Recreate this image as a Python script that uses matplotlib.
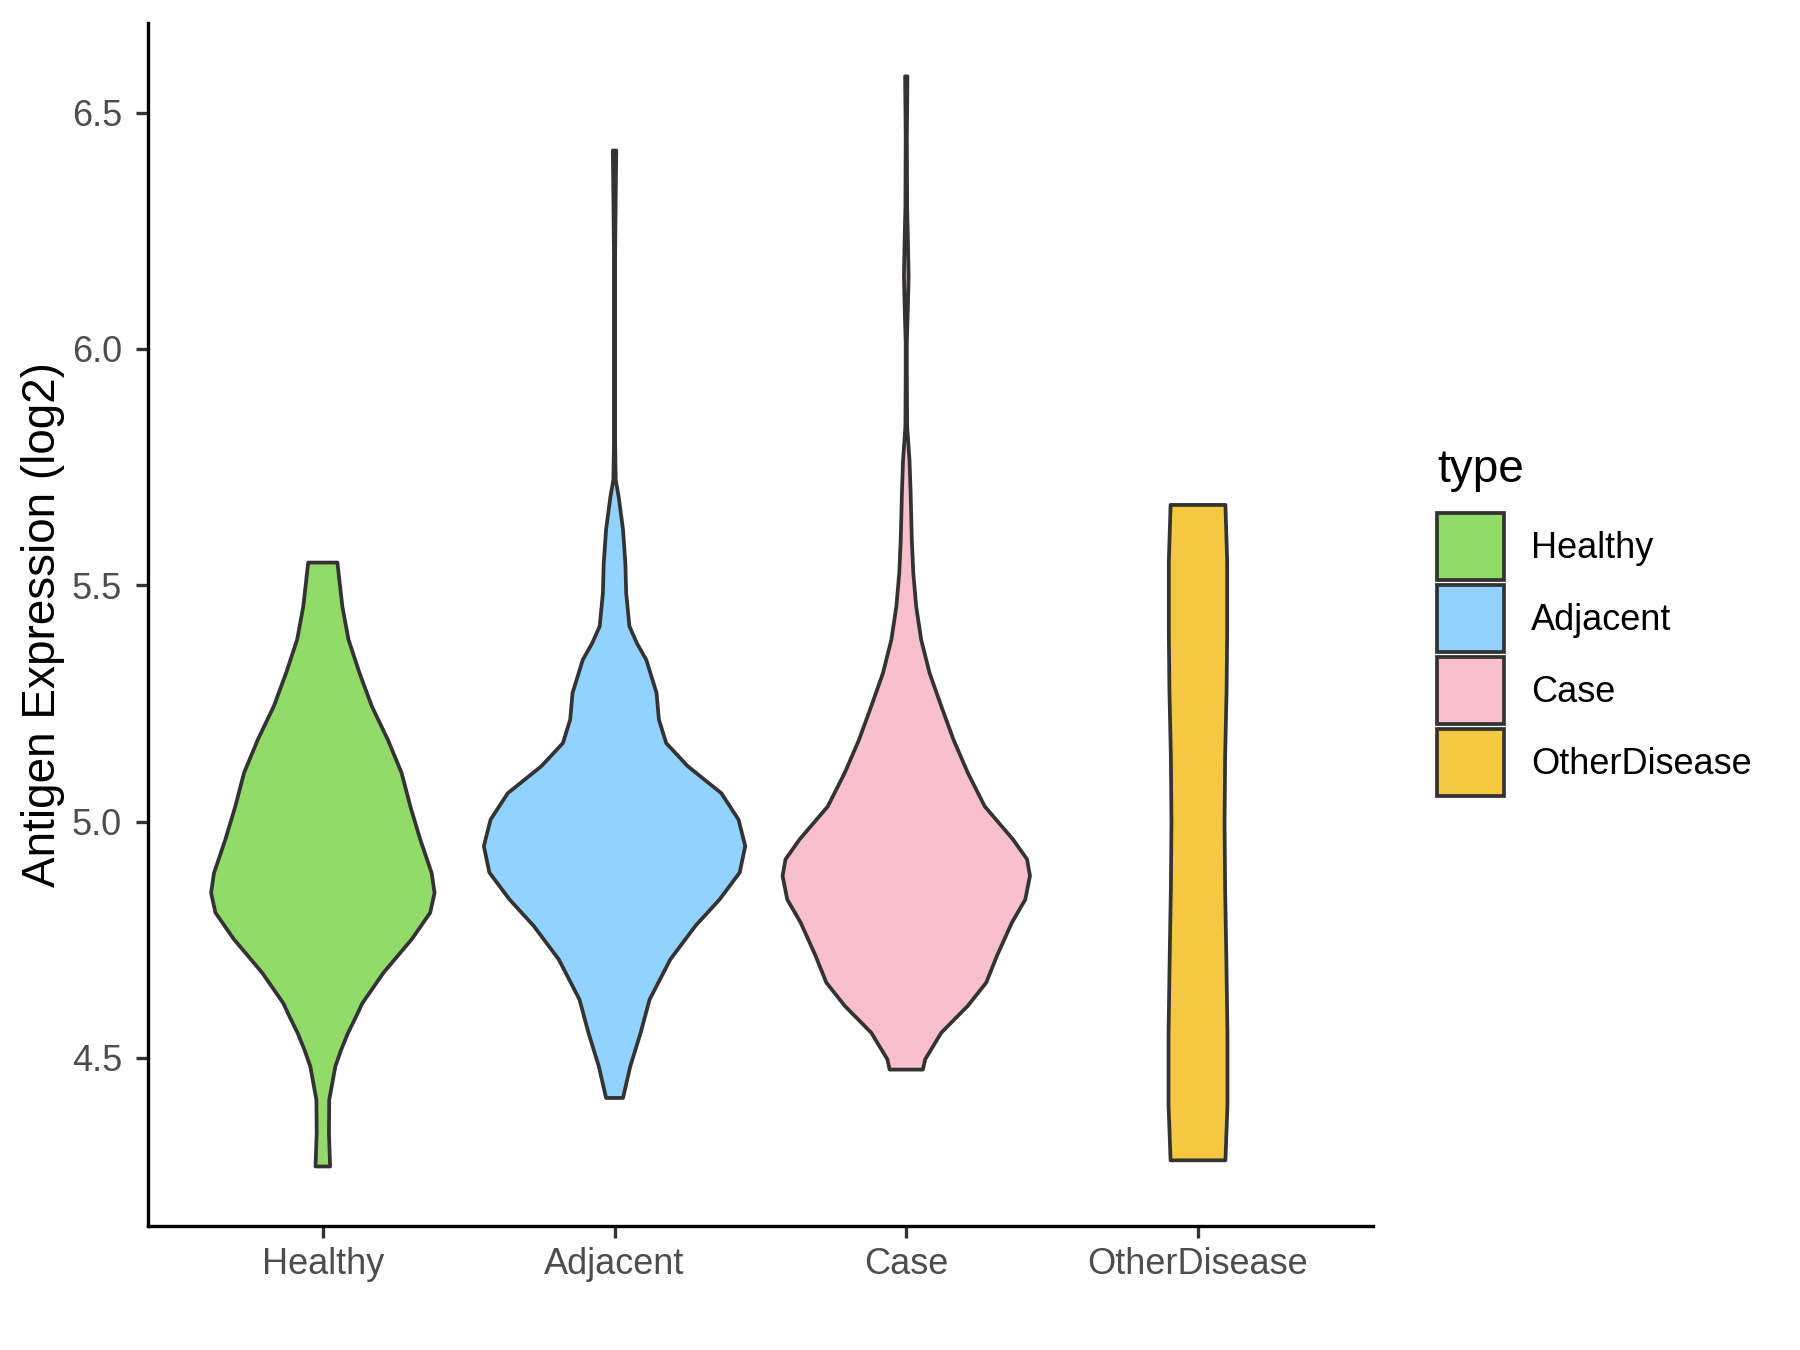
#!/usr/bin/env python3
"""Violin chart: antigen expression by sample type"""
import matplotlib
matplotlib.use('Agg')
import matplotlib.pyplot as plt
from matplotlib.patches import Patch
import numpy as np

plt.rcParams['font.family'] = ['Liberation Sans', 'DejaVu Sans']

# ── data: violin outlines ──
# y = expression level (log2), w = half-width of the violin (x units)
categories = ['Healthy', 'Adjacent', 'Case', 'OtherDisease']
fill_colors = ['#92DB69', '#92D2FF', '#F7C0CB', '#F5C842']

healthy_y = [4.270, 4.341, 4.411, 4.482, 4.517, 4.552, 4.587, 4.615, 4.680,
             4.751, 4.807, 4.849, 4.891, 4.962, 5.032, 5.103, 5.173, 5.244,
             5.314, 5.385, 5.455, 5.548]
healthy_w = [0.025, 0.021, 0.022, 0.043, 0.063, 0.086, 0.114, 0.135, 0.208,
             0.305, 0.368, 0.383, 0.373, 0.334, 0.300, 0.270, 0.223, 0.168,
             0.126, 0.088, 0.067, 0.050]

adjacent_y = [4.415, 4.482, 4.552, 4.623, 4.708, 4.779, 4.835, 4.892, 4.948,
              5.004, 5.060, 5.117, 5.166, 5.216, 5.272, 5.342, 5.377, 5.413,
              5.483, 5.547, 5.618, 5.688, 5.723, 5.800, 6.000, 6.200, 6.323,
              6.420]
adjacent_w = [0.029, 0.054, 0.089, 0.120, 0.191, 0.277, 0.360, 0.429, 0.448,
              0.425, 0.366, 0.251, 0.177, 0.152, 0.144, 0.109, 0.077, 0.051,
              0.040, 0.037, 0.029, 0.014, 0.004, 0.002, 0.002, 0.002, 0.004,
              0.006]

case_y = [4.475, 4.497, 4.553, 4.610, 4.659, 4.716, 4.786, 4.835, 4.885,
          4.920, 4.962, 5.032, 5.103, 5.173, 5.244, 5.314, 5.385, 5.455,
          5.526, 5.596, 5.695, 5.765, 5.836, 5.950, 6.013, 6.100, 6.154,
          6.220, 6.300, 6.450, 6.577]
case_w = [0.057, 0.065, 0.120, 0.211, 0.274, 0.311, 0.362, 0.408, 0.424,
          0.414, 0.366, 0.269, 0.211, 0.162, 0.120, 0.080, 0.051, 0.034,
          0.024, 0.019, 0.015, 0.011, 0.003, 0.002, 0.002, 0.006, 0.008,
          0.006, 0.003, 0.002, 0.004]

other_y = [4.283, 4.400, 4.550, 4.715, 4.856, 4.997, 5.138, 5.279, 5.400,
           5.550, 5.670]
other_w = [0.094, 0.101, 0.101, 0.097, 0.093, 0.091, 0.093, 0.098, 0.100,
           0.100, 0.094]

profiles = [(healthy_y, healthy_w), (adjacent_y, adjacent_w),
            (case_y, case_w), (other_y, other_w)]

y_ticks = [4.5, 5.0, 5.5, 6.0, 6.5]

EDGE = '#333333'
LW = 1.35

# ── figure ──
fig = plt.figure(figsize=(9, 6.75), dpi=200)
ax = fig.add_axes([0.0821, 0.0915, 0.6807, 0.8915])

for i, ((ys, ws), col) in enumerate(zip(profiles, fill_colors)):
    c = i + 1
    ys = np.array(ys)
    ws = np.array(ws)
    xs = np.concatenate([c - ws, (c + ws)[::-1]])
    yy = np.concatenate([ys, ys[::-1]])
    ax.fill(xs, yy, facecolor=col, edgecolor=EDGE, linewidth=LW,
            joinstyle='round', zorder=2)

ax.set_xlim(0.4, 4.6)
ax.set_ylim(4.143, 6.690)
ax.set_xticks(range(1, len(categories) + 1))
ax.set_xticklabels(categories)
ax.set_yticks(y_ticks)
ax.set_yticklabels([f'{v:.1f}' for v in y_ticks])
ax.tick_params(axis='both', labelsize=13, labelcolor='#4D4D4D',
               color=EDGE, width=1.2, length=4.3)
ax.tick_params(axis='x', pad=3)
ax.tick_params(axis='y', pad=5)

for side in ['top', 'right']:
    ax.spines[side].set_visible(False)
for side in ['left', 'bottom']:
    ax.spines[side].set_linewidth(1.2)
    ax.spines[side].set_color('black')

ax.set_ylabel('Antigen Expression (log2)', fontsize=16.5, labelpad=2.5)

# ── legend (title drawn separately to get ggplot-like spacing) ──
fig.text(1437 / 1800, 1 - 482 / 1350, 'type', fontsize=16.5,
         ha='left', va='baseline')
handles = [Patch(facecolor=col, edgecolor=EDGE, linewidth=LW, label=lab)
           for lab, col in zip(categories, fill_colors)]
fig.legend(handles=handles, loc='upper left',
           bbox_to_anchor=(1437 / 1800, 1 - 513 / 1350),
           frameon=False, fontsize=13,
           handlelength=1.85, handleheight=2.48, labelspacing=0.14,
           handletextpad=0.75, borderpad=0, borderaxespad=0)

fig.savefig('out.png', dpi=200, facecolor='white')
